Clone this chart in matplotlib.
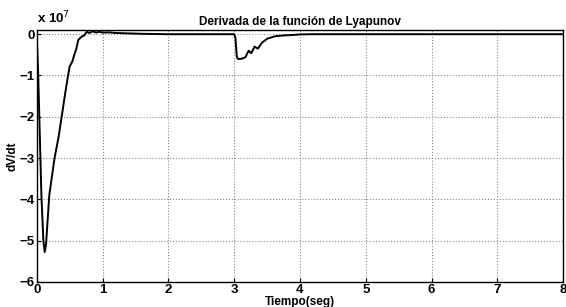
import matplotlib
matplotlib.use("Agg")
import matplotlib.pyplot as plt

plt.rcParams["font.family"] = ["Liberation Sans", "DejaVu Sans"]

# tiempo (seg) y derivada de V (en unidades de 1e7)
tiempo = [0.0, 0.005, 0.02, 0.05, 0.07, 0.10, 0.12, 0.14, 0.19, 0.27, 0.33,
          0.38, 0.43, 0.47, 0.50, 0.54, 0.57, 0.60, 0.63, 0.68, 0.72, 0.76,
          0.80, 0.85, 0.90, 0.95, 1.0, 1.1, 1.2, 1.4, 1.6, 1.8, 2.0, 2.5,
          3.0, 3.02, 3.04, 3.06, 3.10, 3.17, 3.22, 3.26, 3.31, 3.36, 3.42,
          3.50, 3.62, 3.75, 3.88, 4.0, 4.2, 5.0, 6.0, 7.0, 8.0]
dvdt = [0.0, -0.3, -0.9, -2.7, -3.9, -5.0, -5.28, -5.1, -3.9, -3.0, -2.5,
        -1.98, -1.45, -1.05, -0.78, -0.66, -0.5, -0.36, -0.14, -0.06, -0.03,
        0.06, 0.03, 0.07, 0.04, 0.06, 0.04, 0.045, 0.03, 0.02, 0.01, 0.005,
        0.0, 0.0,
        0.0, -0.1, -0.55, -0.6, -0.6, -0.56, -0.40, -0.46, -0.30, -0.35,
        -0.21, -0.11, -0.05, -0.03, -0.02, -0.005, 0.0, 0.0, 0.0, 0.0, 0.0]

xticks = [0, 1, 2, 3, 4, 5, 6, 7, 8]
yticks = [-6, -5, -4, -3, -2, -1, 0]

fig = plt.figure(figsize=(5.66, 3.07), dpi=100)
ax = fig.add_axes([0.065, 0.082, 0.93, 0.82])

ax.plot(tiempo, dvdt, color="black", linewidth=1.4)

ax.set_xlim(0, 8)
ax.set_ylim(-6, 0.1)
ax.set_xticks(xticks)
ax.set_yticks(yticks)
ax.tick_params(labelsize=9.5, direction="in", length=3, pad=1.5)
for lab in ax.get_xticklabels() + ax.get_yticklabels():
    lab.set_fontweight("heavy")

ax.grid(True, linestyle=":", color="#888888", linewidth=0.8)
for s in ax.spines.values():
    s.set_linewidth(1.0)

ax.set_title("Derivada de la función de Lyapunov", fontsize=8.5,
             fontweight="bold", pad=4)
ax.set_xlabel("Tiempo(seg)", fontsize=8.5, fontweight="bold", labelpad=0)
ax.set_ylabel("dV/dt", fontsize=8.5, fontweight="bold", labelpad=1)
ax.text(0.0, 1.015, r"x 10$^{7}$", transform=ax.transAxes, fontsize=9.5,
        fontweight="bold", ha="left", va="bottom")

fig.savefig("out.png", dpi=100)
